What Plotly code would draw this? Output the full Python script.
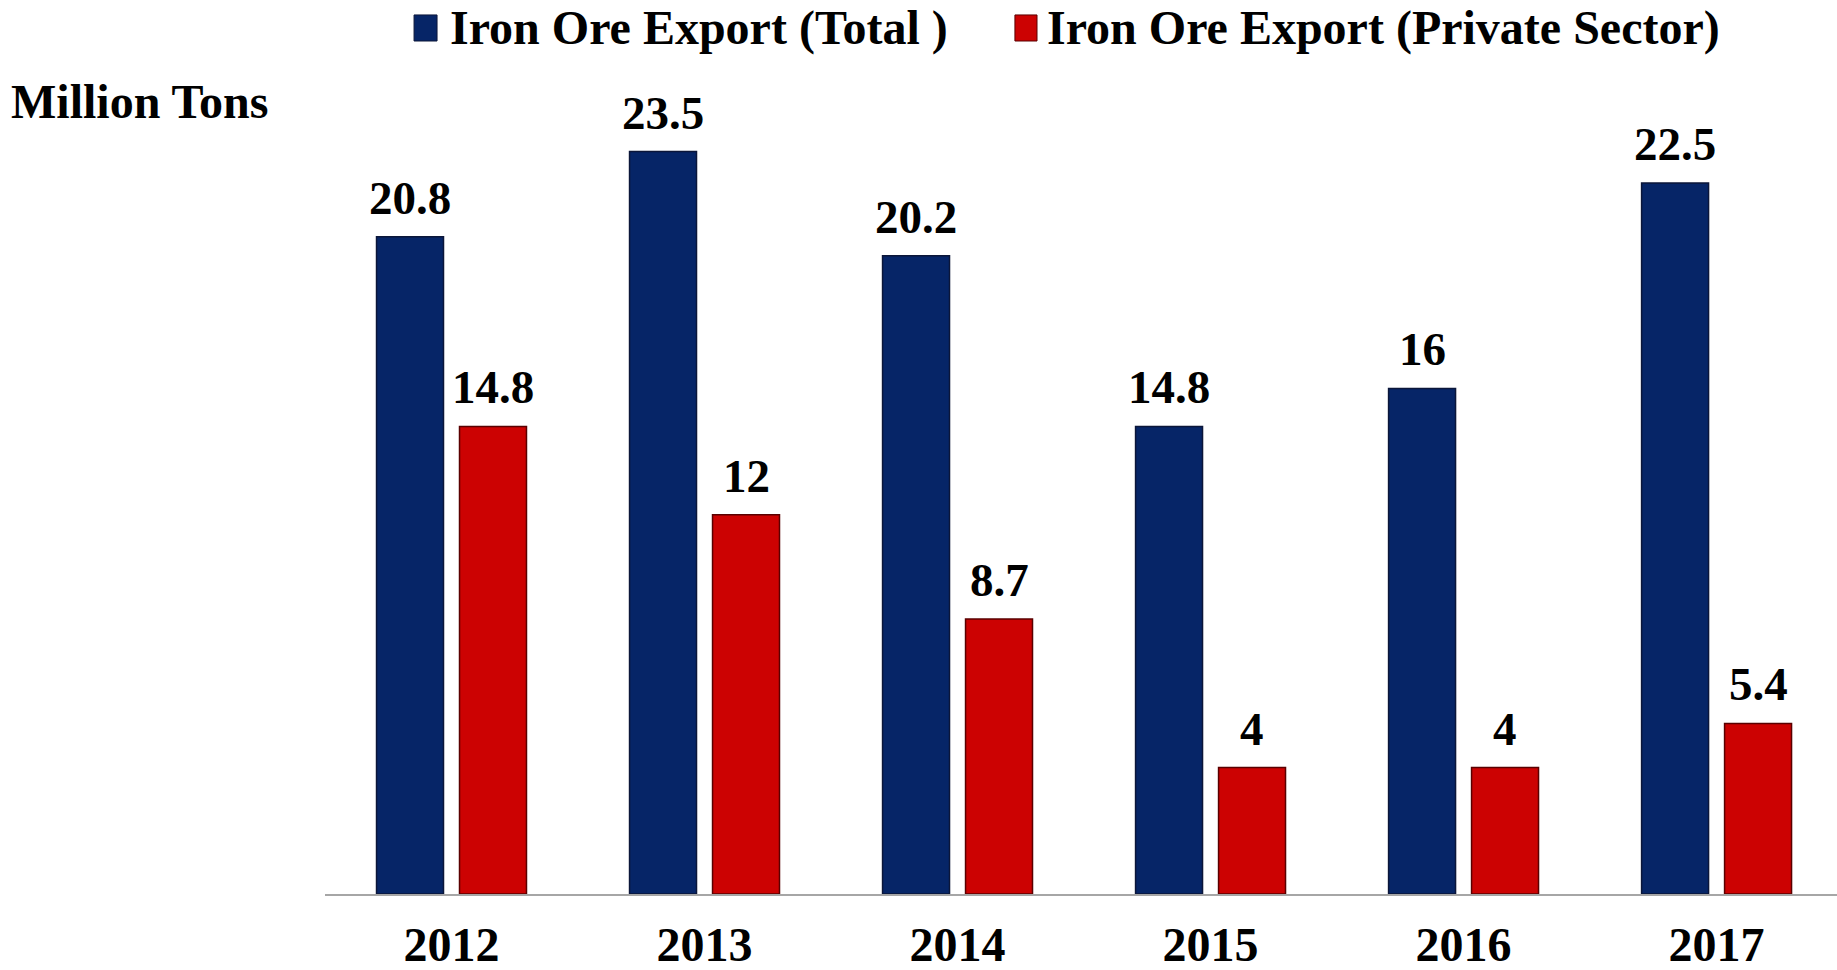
import plotly.graph_objects as go

years = ["2012", "2013", "2014", "2015", "2016", "2017"]
total_export = [20.8, 23.5, 20.2, 14.8, 16, 22.5]
private_export = [14.8, 12, 8.7, 4, 4, 5.4]
series_names = ["Iron Ore Export (Total )", "Iron Ore Export (Private Sector)"]
y_title = "Million Tons"

FONT = "Times New Roman, Liberation Serif, serif"
BLUE = "#062567"
RED = "#CC0202"
EDGE = {BLUE: "#0B1639", RED: "#5A0000"}

fig = go.Figure()
for name, vals, col in [(series_names[0], total_export, BLUE), (series_names[1], private_export, RED)]:
    fig.add_trace(go.Bar(
        x=years, y=vals, name=name,
        marker=dict(color=col, line=dict(color=EDGE[col], width=1.5)),
        showlegend=False, hoverinfo="x+y+name",
    ))

# value labels above bars (offset to the grouped bar position)
PLOT_LEFT, PLOT_W = 325, 1837 - 325
XR = [-0.5, 5.476]
px_per_cat = PLOT_W / (XR[1] - XR[0])
BARGAP = 0.344
slot = (1 - BARGAP) / 2 * px_per_cat
for vals, shift in [(total_export, -slot / 2), (private_export, slot / 2)]:
    for i, v in enumerate(vals):
        fig.add_annotation(x=i, y=v, xref="x", yref="y", text=f"{v:g}", showarrow=False,
                           xshift=shift, yshift=11, yanchor="bottom", xanchor="center",
                           font=dict(family=FONT, size=47, color="black", weight="bold"))

# custom legend (swatches + labels)
sw = [(0.0589, 0.0741, BLUE, 0.0815), (0.4563, 0.4709, RED, 0.4764)]
for (x0, x1, c, tx), name in zip(sw, series_names):
    fig.add_shape(type="rect", xref="paper", yref="paper", x0=x0, x1=x1, y0=1.0743, y1=1.1071,
                  fillcolor=c, line=dict(color=EDGE[c], width=1))
    fig.add_annotation(text=name, xref="paper", yref="paper", x=tx, y=1.0907,
                       xanchor="left", yanchor="middle", showarrow=False,
                       font=dict(family=FONT, size=48, color="black", weight="bold"))

fig.add_annotation(text=y_title, xref="paper", yref="paper", x=-0.209, y=0.9975,
                   xanchor="left", yanchor="middle", showarrow=False,
                   font=dict(family=FONT, size=48, color="black", weight="bold"))

fig.update_layout(
    width=1837, height=970,
    margin=dict(l=PLOT_LEFT, r=0, t=100, b=76, autoexpand=False),
    paper_bgcolor="white", plot_bgcolor="white",
    barmode="group", bargap=BARGAP, bargroupgap=0.193,
    showlegend=False,
    xaxis=dict(
        type="category", range=XR, showline=True, linecolor="#A6A6A6", linewidth=1.5,
        showgrid=False, zeroline=False, ticks="", automargin=False,
        tickfont=dict(family=FONT, size=48, color="black", weight="bold"),
        ticklabelstandoff=8,
    ),
    yaxis=dict(range=[0, 25.13], visible=False, showgrid=False, zeroline=False, automargin=False),
)

fig.write_html(
    "out.html",
    config={"displayModeBar": False},
    post_script="document.body.style.margin='0';document.body.style.overflow='hidden';",
)
